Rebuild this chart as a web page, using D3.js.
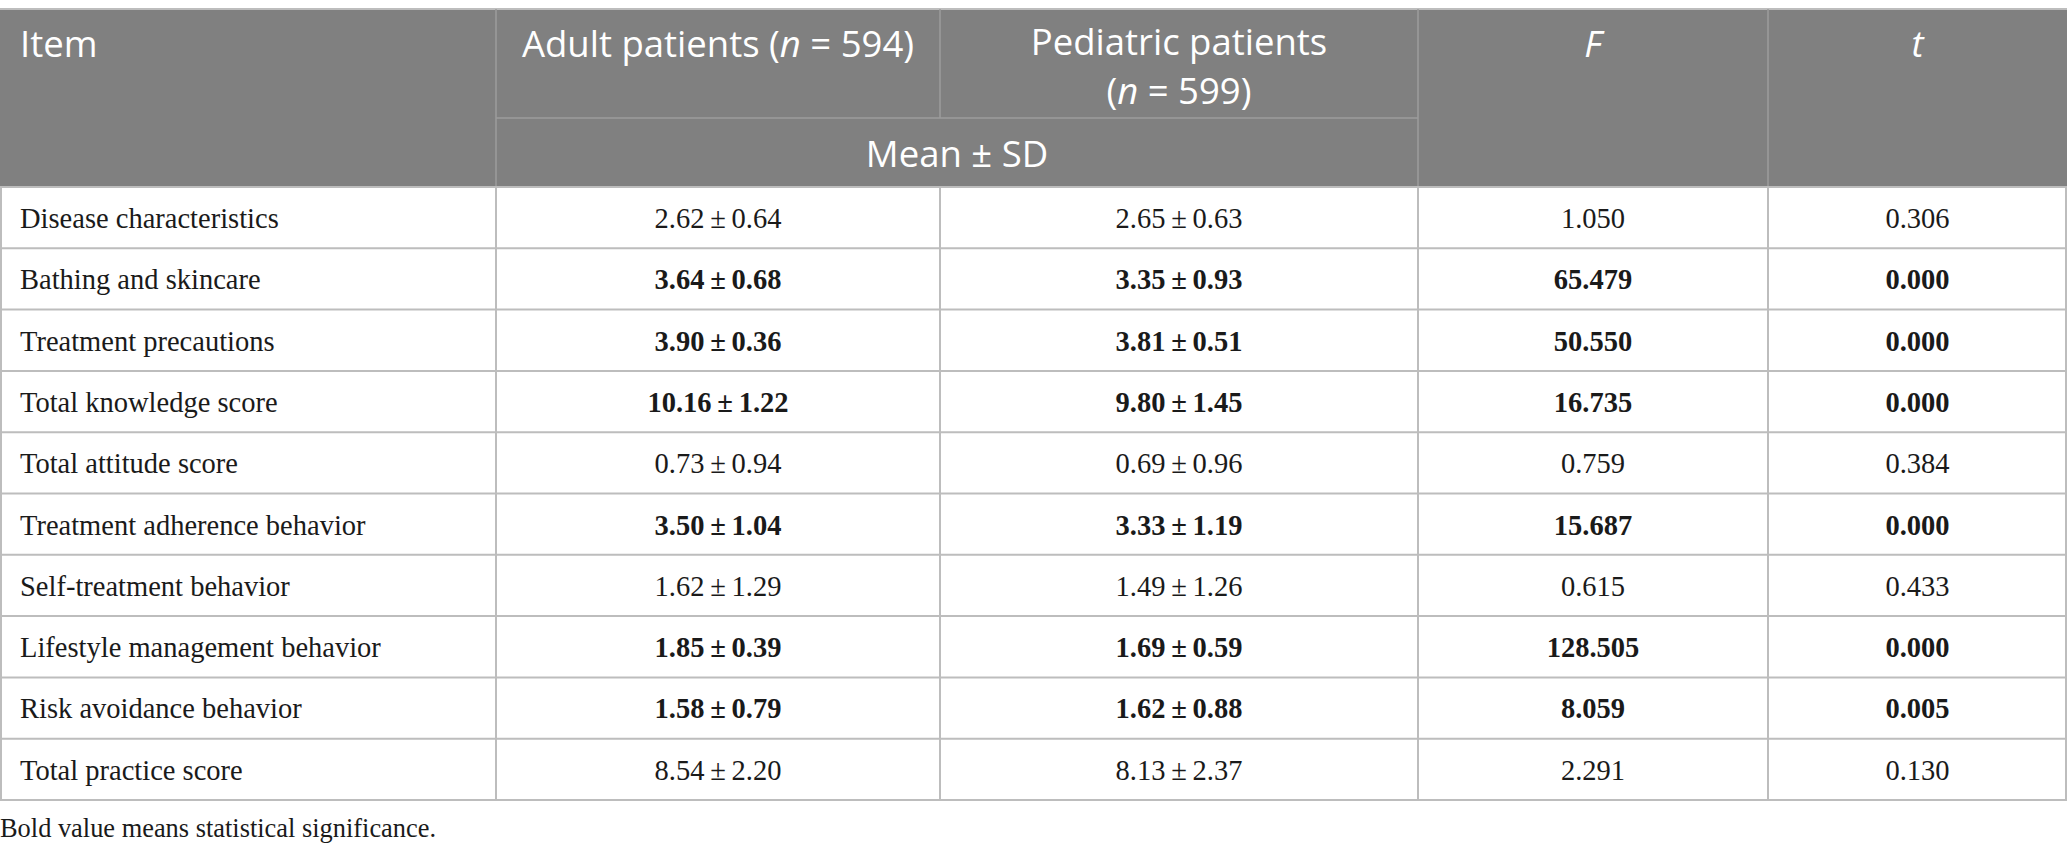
<!DOCTYPE html>
<head>
	<meta charset="utf-8">
	<style>
		body {margin: 0; background: #fff;}
		.hdr {fill: #fff; font-family: "Open Sans", sans-serif; font-size: 36.5px;}
		.cell {fill: #1a1a1a; font-family: "Liberation Serif", serif; font-size: 28.5px;}
		.bold {font-weight: bold;}
	</style>
	<script src="https://d3js.org/d3.v7.min.js" charset="utf-8"></script>
</head>
<body>
	<script>
		// table content
		var items = ["Disease characteristics", "Bathing and skincare", "Treatment precautions",
			"Total knowledge score", "Total attitude score", "Treatment adherence behavior",
			"Self-treatment behavior", "Lifestyle management behavior", "Risk avoidance behavior",
			"Total practice score"];
		var adultMean = ["2.62", "3.64", "3.90", "10.16", "0.73", "3.50", "1.62", "1.85", "1.58", "8.54"];
		var adultSD = ["0.64", "0.68", "0.36", "1.22", "0.94", "1.04", "1.29", "0.39", "0.79", "2.20"];
		var pedMean = ["2.65", "3.35", "3.81", "9.80", "0.69", "3.33", "1.49", "1.69", "1.62", "8.13"];
		var pedSD = ["0.63", "0.93", "0.51", "1.45", "0.96", "1.19", "1.26", "0.59", "0.88", "2.37"];
		var fValues = ["1.050", "65.479", "50.550", "16.735", "0.759", "15.687", "0.615", "128.505", "8.059", "2.291"];
		var tValues = ["0.306", "0.000", "0.000", "0.000", "0.384", "0.000", "0.433", "0.000", "0.005", "0.130"];
		var significant = [false, true, true, true, false, true, false, true, true, false];
		var columns = ["item", "adult", "ped", "f", "t"];
		var footnote = "Bold value means statistical significance.";

		var width = 2067, height = 857,
			headTop = 9, subLine = 118, headBottom = 187, tableBottom = 800;

		var svg = d3.select("body").append("svg")
			.attr("width", width)
			.attr("height", height);

		var colLeft = d3.scaleOrdinal().domain(columns).range([0, 496, 940, 1418, 1768]);
		var colRight = d3.scaleOrdinal().domain(columns).range([496, 940, 1418, 1768, 2067]);
		var colMid = function(c) { return (colLeft(c) + colRight(c)) / 2; };

		var y = d3.scaleBand()
			.domain(items)
			.range([headBottom, tableBottom]);

		// header background
		svg.append("rect")
			.attr("x", 0).attr("y", headTop)
			.attr("width", width).attr("height", headBottom - headTop)
			.attr("fill", "#808080");
		svg.append("line")
			.attr("x1", 0).attr("x2", width)
			.attr("y1", headTop).attr("y2", headTop)
			.attr("stroke", "#bdbdbd").attr("stroke-width", 2);

		// header inner lines
		var hl = svg.append("g").attr("stroke", "#9c9c9c").attr("stroke-width", 1.5);
		hl.append("line").attr("x1", colLeft("adult")).attr("x2", colLeft("adult")).attr("y1", headTop).attr("y2", headBottom);
		hl.append("line").attr("x1", colLeft("ped")).attr("x2", colLeft("ped")).attr("y1", headTop).attr("y2", subLine);
		hl.append("line").attr("x1", colLeft("f")).attr("x2", colLeft("f")).attr("y1", headTop).attr("y2", headBottom);
		hl.append("line").attr("x1", colLeft("t")).attr("x2", colLeft("t")).attr("y1", headTop).attr("y2", headBottom);
		hl.append("line").attr("x1", colLeft("adult")).attr("x2", colLeft("f")).attr("y1", subLine).attr("y2", subLine);

		// header texts
		svg.append("text").attr("class", "hdr").attr("x", 20).attr("y", 57).text("Item");

		var t1 = svg.append("text").attr("class", "hdr").attr("x", colMid("adult")).attr("y", 57).attr("text-anchor", "middle");
		t1.append("tspan").text("Adult patients (");
		t1.append("tspan").attr("font-style", "italic").text("n");
		t1.append("tspan").text(" = 594)");

		// two lines, spaced so the line boxes stay apart
		var t2 = svg.append("text").attr("class", "hdr").attr("text-anchor", "middle");
		t2.append("tspan").attr("x", colMid("ped")).attr("y", 55).text("Pediatric patients");
		t2.append("tspan").attr("x", colMid("ped")).attr("y", 104).text("(");
		t2.append("tspan").attr("font-style", "italic").text("n");
		t2.append("tspan").text(" = 599)");

		svg.append("text").attr("class", "hdr").attr("x", colMid("f")).attr("y", 57).attr("text-anchor", "middle").attr("font-style", "italic").text("F");
		svg.append("text").attr("class", "hdr").attr("x", colMid("t")).attr("y", 57).attr("text-anchor", "middle").attr("font-style", "italic").text("t");

		svg.append("text").attr("class", "hdr")
			.attr("x", (colLeft("adult") + colRight("ped")) / 2).attr("y", 167)
			.attr("text-anchor", "middle").text("Mean \u00b1 SD");

		// body rows
		var rowData = items.map(function(d, i) {
			return {
				item: d,
				adult: adultMean[i] + "\u2009\u00b1\u2009" + adultSD[i],
				ped: pedMean[i] + "\u2009\u00b1\u2009" + pedSD[i],
				f: fValues[i],
				t: tValues[i],
				sig: significant[i]
			};
		});

		var rows = svg.selectAll("g.row")
			.data(rowData)
			.enter()
			.append("g")
			.attr("class", "row")
			.attr("transform", function(d) { return "translate(0," + y(d.item) + ")"; });

		columns.forEach(function(c) {
			rows.append("text")
				.attr("class", function(d) { return (c != "item" && d.sig) ? "cell bold" : "cell"; })
				.attr("x", c == "item" ? 20 : colMid(c))
				.attr("y", 41)
				.attr("text-anchor", c == "item" ? "start" : "middle")
				.text(function(d) { return d[c]; });
		});

		// grid lines in the body
		var grid = svg.append("g").attr("stroke", "#bdbdbd").attr("stroke-width", 2);
		grid.selectAll("line.h")
			.data(items)
			.enter()
			.append("line")
			.attr("class", "h")
			.attr("x1", 0).attr("x2", width)
			.attr("y1", function(d) { return y(d) + y.bandwidth(); })
			.attr("y2", function(d) { return y(d) + y.bandwidth(); });
		grid.selectAll("line.v")
			.data(columns.concat(["end"]))
			.enter()
			.append("line")
			.attr("class", "v")
			.attr("x1", function(c) { return c == "end" ? width - 1 : Math.max(1, colLeft(c)); })
			.attr("x2", function(c) { return c == "end" ? width - 1 : Math.max(1, colLeft(c)); })
			.attr("y1", headBottom).attr("y2", tableBottom);
		svg.append("line")
			.attr("x1", 0).attr("x2", width)
			.attr("y1", headBottom).attr("y2", headBottom)
			.attr("stroke", "#bdbdbd").attr("stroke-width", 2);

		svg.append("text").attr("class", "cell")
			.attr("x", 0).attr("y", 837)
			.style("font-size", "26.4px")
			.text(footnote);
	</script>
</body>
</html>
